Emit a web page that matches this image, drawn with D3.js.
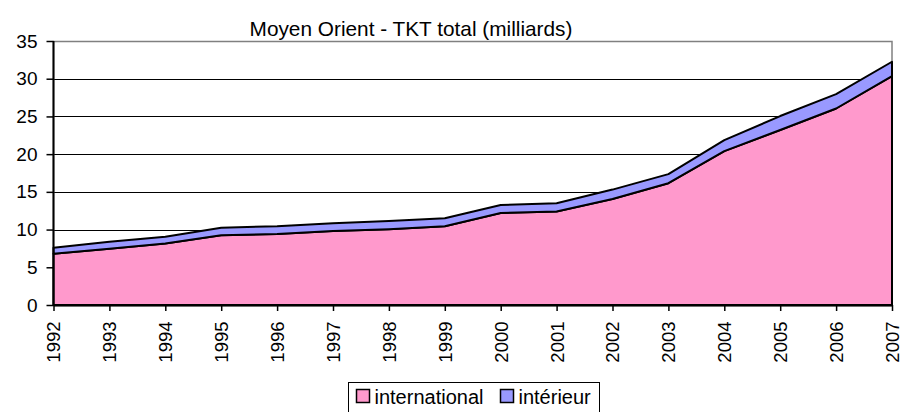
<!DOCTYPE html>
<html>
<head>
<meta charset="utf-8">
<script src="https://cdn.jsdelivr.net/npm/d3@7/dist/d3.min.js"></script>
<style>
  body { margin: 0; background: #fff; }
  text { font-family: "Liberation Sans", Arial, sans-serif; fill: #000; }
</style>
</head>
<body>
<div id="chart"></div>
<script>
var margin = {top: 41, right: 10, bottom: 107, left: 53.5},
    width = 902 - margin.left - margin.right,
    height = 412 - margin.top - margin.bottom;

// years on the x axis
var years = [1992,1993,1994,1995,1996,1997,1998,1999,2000,2001,2002,2003,2004,2005,2006,2007];

// TKT in milliards
var international = [6.8,7.45,8.15,9.25,9.4,9.8,10.05,10.45,12.2,12.4,14.05,16.15,20.4,23.2,26.05,30.35];
var interieur = [0.8,0.95,0.9,1.0,1.05,1.05,1.1,1.05,1.05,1.1,1.25,1.2,1.45,1.85,1.9,1.9];

var seriesNames = ["international","intérieur"];
var colors = ["#ff99cc","#9999ff"];
var yTicks = [0,5,10,15,20,25,30,35];

var svg = d3.select("#chart").append("svg")
    .attr("width", 902)
    .attr("height", 412);

var g = svg.append("g")
    .attr("transform", "translate(" + margin.left + "," + margin.top + ")");

var rows = years.map(function(y, i) {
    return {year: y, international: international[i], "intérieur": interieur[i]};
});

var stacked = d3.stack().keys(seriesNames)(rows);

var xScale = d3.scalePoint().domain(years).range([0, width]);
var yScale = d3.scaleLinear().domain([0, 35]).range([height, 0]);

// title
svg.append("text")
    .attr("x", 411)
    .attr("y", 36)
    .attr("text-anchor", "middle")
    .style("font-size", "20.8px")
    .text("Moyen Orient - TKT total (milliards)");

// gridlines
g.selectAll(".grid")
    .data(yTicks.slice(1, -1))
    .enter().append("line")
    .attr("x1", 0).attr("x2", width)
    .attr("y1", function(d) { return Math.round(yScale(d)) + 0.5; })
    .attr("y2", function(d) { return Math.round(yScale(d)) + 0.5; })
    .style("stroke", "#000")
    .style("stroke-width", 1);

// plot area border
g.append("rect")
    .attr("x", 0).attr("y", 0.5)
    .attr("width", width).attr("height", height)
    .style("fill", "none")
    .style("stroke", "#808080")
    .style("stroke-width", 1.5);

// stacked areas
var area = d3.area()
    .x(function(d) { return xScale(d.data.year); })
    .y0(function(d) { return yScale(d[0]); })
    .y1(function(d) { return yScale(d[1]); });

g.selectAll(".layer")
    .data(stacked)
    .enter().append("path")
    .attr("d", area)
    .style("fill", function(d, i) { return colors[i]; })
    .style("stroke", "#000")
    .style("stroke-width", 2)
    .style("stroke-linejoin", "round");

// y axis
var yAxis = g.append("g")
    .call(d3.axisLeft(yScale).tickValues(yTicks).tickSize(7).tickPadding(9));
yAxis.select(".domain").style("stroke-width", 2).attr("d", "M0," + height + "V0");
yAxis.selectAll("line").style("stroke-width", 1.5);
yAxis.selectAll("text").style("font-size", "19px");

// x axis
var xAxis = g.append("g")
    .attr("transform", "translate(0," + height + ")")
    .call(d3.axisBottom(xScale).tickSize(6).tickSizeOuter(0));
xAxis.select(".domain").style("stroke-width", 2);
xAxis.selectAll("line").style("stroke-width", 1.5);
xAxis.selectAll("text")
    .style("font-size", "18.5px")
    .attr("text-anchor", "end")
    .attr("dy", "0.35em")
    .attr("transform", "translate(0,16.5) rotate(-90)")
    .attr("x", 0).attr("y", 0);

// legend
var legend = svg.append("g");
legend.append("rect")
    .attr("x", 348.5).attr("y", 382.5)
    .attr("width", 251).attr("height", 40)
    .style("fill", "#fff")
    .style("stroke", "#000")
    .style("stroke-width", 1);

var legendX = [356.5, 500.5];
seriesNames.forEach(function(name, i) {
    legend.append("rect")
        .attr("x", legendX[i]).attr("y", 389.5)
        .attr("width", 13).attr("height", 13)
        .style("fill", colors[i])
        .style("stroke", "#000")
        .style("stroke-width", 1.5);
    legend.append("text")
        .attr("x", legendX[i] + 18)
        .attr("y", 404)
        .style("font-size", "20px")
        .text(name);
});
</script>
</body>
</html>
